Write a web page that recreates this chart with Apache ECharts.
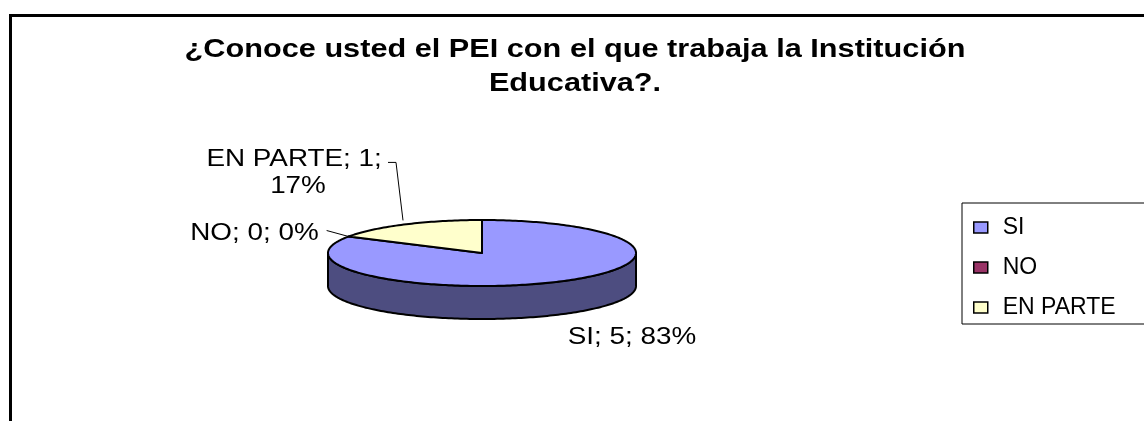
<!DOCTYPE html>
<html>
<head>
<meta charset="utf-8">
<script src="https://cdn.jsdelivr.net/npm/echarts@6/dist/echarts.min.js"></script>
<style>
html, body { margin: 0; padding: 0; background: #fff; }
#chart { width: 1144px; height: 421px; }
</style>
</head>
<body>
<div id="chart"></div>
<script>
var categories = ['SI', 'NO', 'EN PARTE'];
var values = [5, 0, 1];
var topColors = ['#9999FF', '#993366', '#FFFFCC'];
var sideColors = ['#4D4D80', '#4D1A33', '#80806A'];
var titleText = '¿Conoce usted el PEI con el que trabaja la Institución\nEducativa?.';

// 3d pie geometry: ellipse centre, radii and thickness
var cx = 482, cy = 253, rx = 154, ry = 33, depth = 33;
var FONT = '"Liberation Sans", Arial, sans-serif';
// excel stretched the text sideways, so do the same
var STRETCH = 1.16;

// label placement relative to the slice anchor point
var labelLayout = [
  { dx: 73, dy: 23, align: 'center', wrap: false, leader: null },
  { dx: -30, dy: -3, align: 'right', wrap: false, leader: [[0, 0], [-22, -6]] },
  { dx: -107, dy: -52, align: 'center', wrap: true, leader: [[-2, -4], [-9, -62], [-17, -62]] }
];

var total = values.reduce(function (a, b) { return a + b; }, 0);
var startAngles = [], endAngles = [];
(function () {
  var acc = 0;
  for (var i = 0; i < values.length; i++) {
    startAngles.push(acc / total * Math.PI * 2);
    acc += values[i];
    endAngles.push(acc / total * Math.PI * 2);
  }
})();

function pt(t, dy) {
  return [cx + rx * Math.sin(t), cy - ry * Math.cos(t) + (dy || 0)];
}
function arc(a0, a1, dy) {
  var n = Math.max(2, Math.ceil((a1 - a0) / 0.02));
  var pts = [];
  for (var k = 0; k <= n; k++) pts.push(pt(a0 + (a1 - a0) * k / n, dy));
  return pts;
}

function renderSlice(params, api) {
  var i = api.value(0);
  var a0 = startAngles[i], a1 = endAngles[i];
  var children = [];
  var line = { stroke: '#000', lineWidth: 2, lineJoin: 'round' };

  if (a1 > a0) {
    // outer wall, only the front half of the ellipse shows
    var s = Math.max(a0, Math.PI / 2), e = Math.min(a1, Math.PI * 1.5);
    if (e > s) {
      var wall = arc(s, e, 0).concat(arc(s, e, depth).reverse());
      children.push({
        type: 'polygon', z2: 1,
        shape: { points: wall },
        style: Object.assign({ fill: sideColors[i] }, line)
      });
    }
    var face = [[cx, cy]].concat(arc(a0, a1, 0));
    children.push({
      type: 'polygon', z2: 2,
      shape: { points: face },
      style: Object.assign({ fill: topColors[i] }, line)
    });
  }

  var mid = (a0 + a1) / 2;
  var anchor = pt(mid, Math.cos(mid) < 0 ? depth : 0);
  var lay = labelLayout[i];
  var pct = Math.round(values[i] / total * 100);
  var txt = categories[i] + '; ' + values[i] + '; ' + (lay.wrap ? '\n' : '') + pct + '%';
  if (lay.leader) {
    children.push({
      type: 'polyline', z2: 3,
      shape: { points: lay.leader.map(function (p) { return [anchor[0] + p[0], anchor[1] + p[1]]; }) },
      style: { stroke: '#000', lineWidth: 1, fill: null }
    });
  }
  children.push({
    type: 'text', z2: 3,
    x: anchor[0] + lay.dx, y: anchor[1] + lay.dy,
    scaleX: STRETCH,
    style: {
      text: txt, fill: '#000', font: '24px ' + FONT,
      align: lay.align, verticalAlign: 'middle', lineHeight: 27
    }
  });
  return { type: 'group', children: children };
}

var myChart = echarts.init(document.getElementById('chart'));

var series = categories.map(function (name, i) {
  return {
    name: name,
    type: 'custom',
    coordinateSystem: 'none',
    itemStyle: { color: topColors[i] },
    data: [[i]],
    renderItem: renderSlice
  };
});

var option = {
  animation: false,
  backgroundColor: '#fff',
  legend: {
    data: categories,
    orient: 'vertical',
    left: 962,
    top: 203,
    icon: 'rect',
    itemWidth: 14,
    itemHeight: 11,
    itemGap: 17,
    padding: [13, 80, 5, 11],
    borderColor: '#000',
    borderWidth: 1,
    itemStyle: { borderColor: '#000', borderWidth: 1.5 },
    textStyle: {
      fontFamily: FONT,
      fontSize: 23,
      lineHeight: 22,
      color: '#000',
      padding: [0, 0, 0, 10]
    }
  },
  graphic: [{
    type: 'rect',
    z: -1,
    shape: { x: 10.5, y: 15.5, width: 1300, height: 600 },
    style: { fill: null, stroke: '#000', lineWidth: 3 }
  }, {
    // chart title
    type: 'text',
    x: 575,
    y: 67,
    scaleX: 1.18,
    style: {
      text: titleText,
      font: 'bold 26px ' + FONT,
      fill: '#000',
      align: 'center',
      verticalAlign: 'middle',
      lineHeight: 34
    }
  }],
  series: series
};

myChart.setOption(option);
</script>
</body>
</html>
